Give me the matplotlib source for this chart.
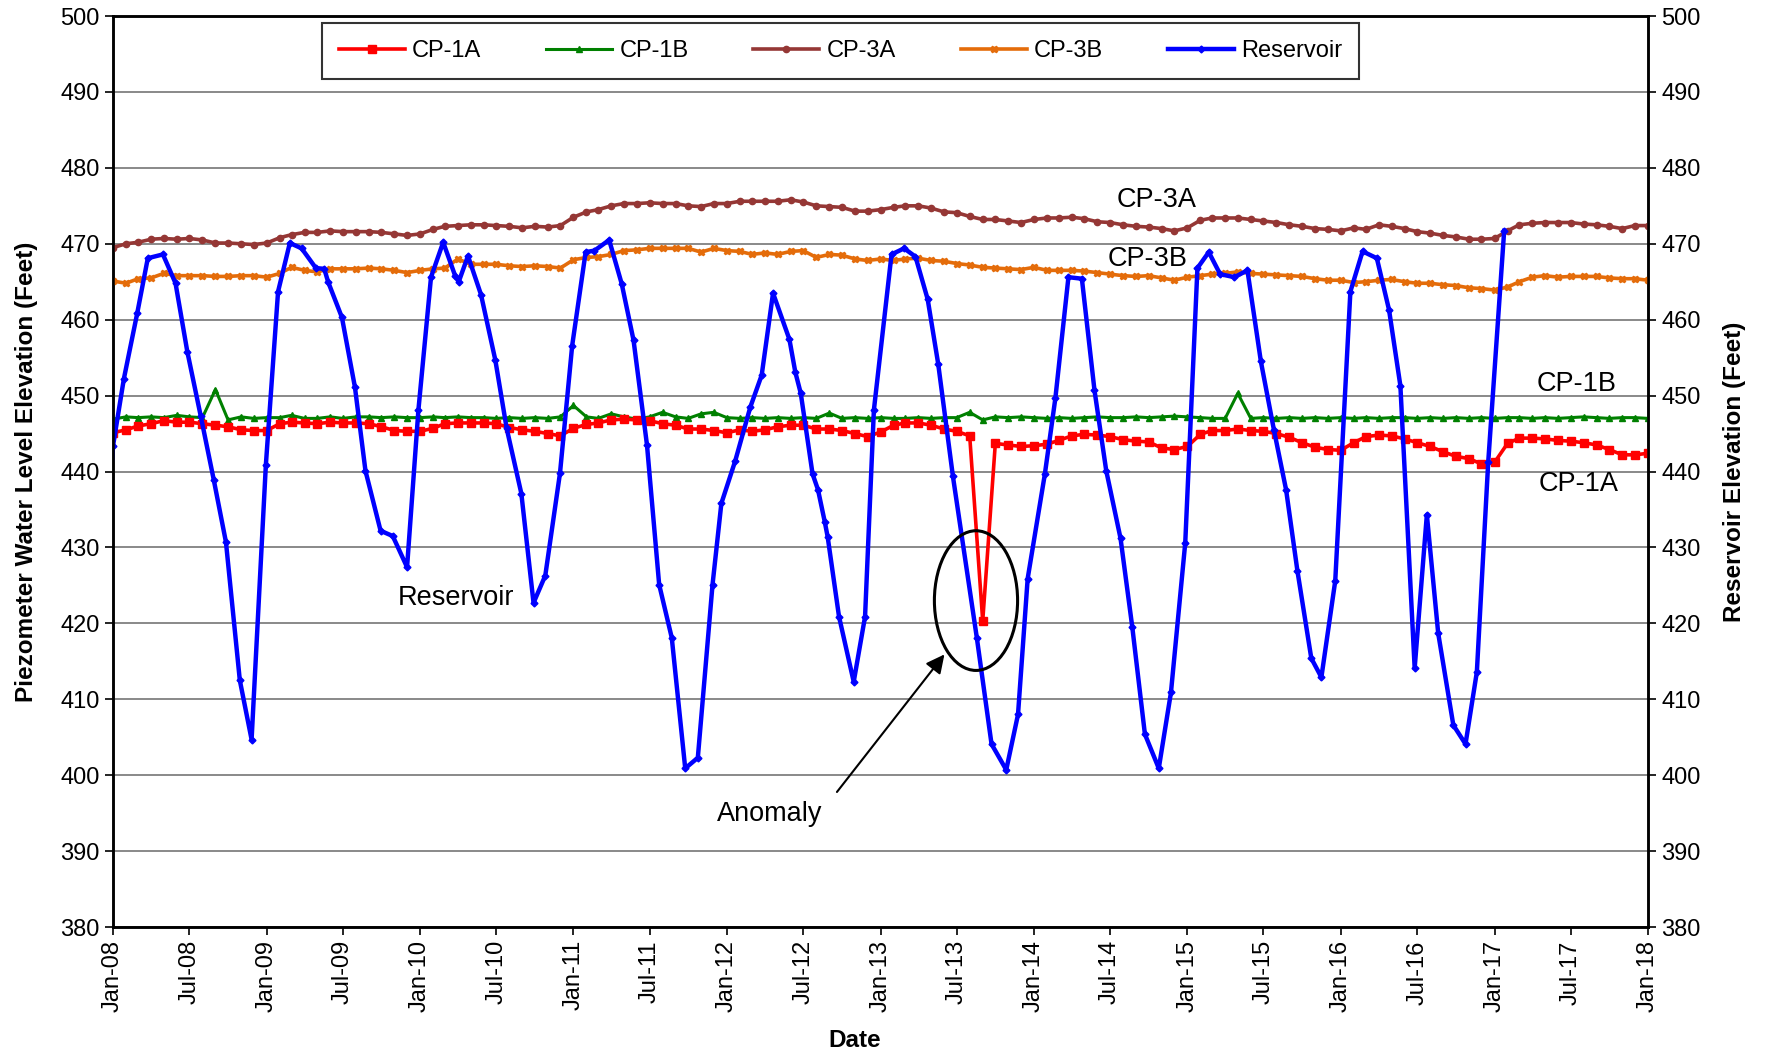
import pandas as pd
import matplotlib.pyplot as plt
import matplotlib.dates as mdates
from matplotlib.patches import Ellipse

plt.rcParams["font.family"] = ["Liberation Sans", "DejaVu Sans"]

# monthly piezometer readings, Jan-08 .. Jan-18
piezo_dates = pd.date_range("2008-01-01", "2018-01-01", freq="MS")

cp1a = [
    445.1, 445.5, 446.0, 446.3, 446.7, 446.5, 446.5, 446.3, 446.1, 445.9, 445.5, 445.4,
    445.4, 446.3, 446.5, 446.4, 446.3, 446.5, 446.4, 446.4, 446.3, 445.9, 445.4, 445.3,
    445.3, 445.7, 446.3, 446.4, 446.4, 446.4, 446.3, 445.8, 445.5, 445.3, 445.0, 444.7,
    445.7, 446.2, 446.4, 446.8, 446.9, 446.8, 446.7, 446.3, 446.1, 445.6, 445.6, 445.4,
    445.1, 445.5, 445.3, 445.5, 445.9, 446.1, 446.1, 445.6, 445.6, 445.4, 445.0, 444.6,
    445.2, 446.1, 446.4, 446.4, 446.1, 445.6, 445.3, 444.7, 420.3, 443.7, 443.5, 443.3,
    443.4, 443.6, 444.1, 444.7, 444.9, 444.8, 444.6, 444.2, 444.0, 443.9, 443.1, 442.9,
    443.3, 444.9, 445.4, 445.4, 445.6, 445.4, 445.3, 445.0, 444.5, 443.8, 443.2, 442.9,
    442.8, 443.8, 444.6, 444.8, 444.7, 444.3, 443.8, 443.3, 442.6, 442.0, 441.7, 441.0,
    441.2, 443.7, 444.4, 444.4, 444.3, 444.1, 444.0, 443.8, 443.5, 442.9, 442.2, 442.2,
    442.4,
]

cp1b = [
    446.9, 447.2, 447.1, 447.2, 447.1, 447.4, 447.2, 447.1, 450.8, 446.8, 447.2, 447.0,
    447.1, 447.1, 447.4, 447.0, 447.0, 447.2, 447.0, 447.2, 447.2, 447.1, 447.2, 447.1,
    447.1, 447.2, 447.1, 447.2, 447.1, 447.1, 447.0, 447.1, 447.0, 447.1, 447.0, 447.2,
    448.7, 447.2, 447.0, 447.6, 447.2, 446.9, 447.2, 447.8, 447.2, 447.0, 447.6, 447.8,
    447.1, 447.0, 447.1, 447.0, 447.1, 447.0, 447.1, 447.0, 447.7, 447.0, 447.1, 447.0,
    447.1, 447.0, 447.0, 447.1, 447.0, 447.1, 447.1, 447.8, 446.8, 447.2, 447.1, 447.2,
    447.1, 447.0, 447.1, 447.0, 447.1, 447.2, 447.1, 447.1, 447.2, 447.1, 447.2, 447.3,
    447.2, 447.1, 447.0, 447.0, 450.3, 447.0, 447.1, 447.0, 447.1, 447.0, 447.1, 447.0,
    447.1, 447.0, 447.1, 447.0, 447.1, 447.1, 447.0, 447.1, 447.0, 447.1, 447.0, 447.1,
    447.0, 447.1, 447.1, 447.0, 447.1, 447.0, 447.1, 447.2, 447.1, 447.0, 447.1, 447.1,
    447.0,
]

cp3a = [
    469.5, 470.0, 470.2, 470.6, 470.7, 470.6, 470.7, 470.5, 470.1, 470.1, 470.0, 469.9,
    470.1, 470.8, 471.2, 471.5, 471.5, 471.7, 471.6, 471.6, 471.6, 471.5, 471.3, 471.1,
    471.3, 471.9, 472.3, 472.4, 472.5, 472.5, 472.4, 472.3, 472.1, 472.3, 472.2, 472.4,
    473.5, 474.2, 474.5, 475.0, 475.3, 475.3, 475.4, 475.3, 475.3, 475.0, 474.9, 475.3,
    475.3, 475.6, 475.6, 475.6, 475.6, 475.8, 475.5, 475.0, 474.9, 474.8, 474.3, 474.3,
    474.5, 474.8, 475.0, 475.0, 474.7, 474.2, 474.1, 473.6, 473.2, 473.2, 473.0, 472.8,
    473.2, 473.4, 473.4, 473.5, 473.3, 472.9, 472.8, 472.5, 472.3, 472.2, 472.0, 471.7,
    472.1, 473.1, 473.4, 473.4, 473.4, 473.2, 473.0, 472.8, 472.5, 472.3, 472.0, 471.9,
    471.7, 472.1, 471.9, 472.5, 472.3, 472.0, 471.6, 471.4, 471.1, 470.9, 470.6, 470.6,
    470.7, 471.7, 472.5, 472.7, 472.8, 472.8, 472.8, 472.6, 472.5, 472.3, 472.0, 472.4,
    472.4,
]

cp3b = [
    465.1, 464.8, 465.4, 465.5, 466.1, 465.8, 465.8, 465.8, 465.7, 465.7, 465.8, 465.8,
    465.6, 466.1, 466.9, 466.5, 466.3, 466.7, 466.7, 466.7, 466.8, 466.7, 466.5, 466.2,
    466.5, 466.7, 466.8, 468.0, 467.3, 467.3, 467.3, 467.1, 467.0, 467.1, 467.0, 466.8,
    467.9, 468.2, 468.3, 468.6, 469.1, 469.2, 469.4, 469.4, 469.4, 469.4, 468.9, 469.4,
    469.1, 469.0, 468.6, 468.8, 468.6, 469.0, 469.1, 468.2, 468.6, 468.5, 468.0, 467.8,
    468.0, 467.8, 468.0, 468.1, 467.8, 467.7, 467.4, 467.2, 466.9, 466.8, 466.7, 466.6,
    466.9, 466.5, 466.5, 466.5, 466.4, 466.2, 466.0, 465.8, 465.7, 465.8, 465.5, 465.2,
    465.6, 465.8, 466.0, 466.1, 466.3, 466.1, 466.0, 465.9, 465.8, 465.7, 465.4, 465.2,
    465.2, 464.9, 465.0, 465.2, 465.3, 465.0, 464.8, 464.8, 464.6, 464.5, 464.2, 464.1,
    463.9, 464.3, 465.0, 465.6, 465.8, 465.6, 465.7, 465.7, 465.7, 465.5, 465.4, 465.4,
    465.2,
]

# reservoir readings (irregular dates)
res_dates = [
    "2007-12-10", "2008-01-01", "2008-01-27", "2008-02-28", "2008-03-24", "2008-04-29",
    "2008-05-29", "2008-06-26", "2008-07-28", "2008-08-28", "2008-09-26", "2008-10-29",
    "2008-11-26", "2008-12-30", "2009-01-28", "2009-02-25", "2009-03-25", "2009-04-28",
    "2009-05-18", "2009-05-27", "2009-06-29", "2009-07-30", "2009-08-24", "2009-09-29",
    "2009-10-28", "2009-12-01", "2009-12-28", "2010-01-27", "2010-02-25", "2010-03-26",
    "2010-04-03", "2010-04-25", "2010-05-26", "2010-06-29", "2010-07-26", "2010-08-30",
    "2010-09-28", "2010-10-26", "2010-11-30", "2010-12-29", "2011-01-30", "2011-02-20",
    "2011-03-27", "2011-04-26", "2011-05-24", "2011-06-25", "2011-07-24", "2011-08-23",
    "2011-09-24", "2011-10-24", "2011-11-28", "2011-12-19", "2012-01-21", "2012-02-26",
    "2012-03-24", "2012-04-20", "2012-05-29", "2012-06-12", "2012-06-25", "2012-07-23",
    "2012-08-05", "2012-08-21", "2012-08-28", "2012-09-24", "2012-10-29", "2012-11-25",
    "2012-12-16", "2013-01-27", "2013-02-26", "2013-03-25", "2013-04-23", "2013-05-18",
    "2013-06-22", "2013-08-18", "2013-09-22", "2013-10-27", "2013-11-24", "2013-12-17",
    "2014-01-27", "2014-02-21", "2014-03-24", "2014-04-25", "2014-05-25", "2014-06-22",
    "2014-07-26", "2014-08-23", "2014-09-22", "2014-10-25", "2014-11-23", "2014-12-27",
    "2015-01-25", "2015-02-21", "2015-03-20", "2015-04-23", "2015-05-24", "2015-06-25",
    "2015-07-26", "2015-08-24", "2015-09-20", "2015-10-23", "2015-11-16", "2015-12-19",
    "2016-01-24", "2016-02-22", "2016-03-27", "2016-04-25", "2016-05-22", "2016-06-25",
    "2016-07-24", "2016-08-20", "2016-09-25", "2016-10-24", "2016-11-20", "2016-12-17",
    "2017-01-24",
]
reservoir = [
    425.0, 443.3, 452.2, 460.9, 468.1, 468.6,
    464.8, 455.8, 447.3, 438.9, 430.7, 412.5,
    404.7, 440.9, 463.7, 470.1, 469.4, 466.8,
    466.7, 465.0, 460.3, 451.1, 440.1, 432.2,
    431.5, 427.4, 448.1, 465.6, 470.2, 465.7,
    465.0, 468.4, 463.3, 454.7, 445.7, 437.1,
    422.7, 426.3, 439.8, 456.6, 468.9, 469.1,
    470.5, 464.7, 457.3, 443.5, 425.1, 418.1,
    400.9, 402.3, 425.1, 435.8, 441.4, 448.5,
    452.7, 463.5, 457.4, 453.1, 450.3, 439.7,
    437.6, 433.4, 431.4, 420.9, 412.3, 420.9,
    448.1, 468.6, 469.4, 468.3, 462.7, 454.2,
    439.4, 418.1, 404.1, 400.7, 408.0, 425.9,
    439.7, 449.7, 465.6, 465.4, 450.7, 440.1,
    431.2, 419.5, 405.4, 400.9, 410.9, 430.6,
    466.8, 468.9, 466.0, 465.6, 466.5, 454.5,
    445.5, 437.6, 426.9, 415.4, 412.9, 425.6,
    463.7, 469.0, 468.1, 461.3, 451.3, 414.1,
    434.3, 418.7, 406.6, 404.1, 413.6, 441.2,
    471.7,
]
res_dates = pd.to_datetime(res_dates)

fig = plt.figure(figsize=(17.7, 10.55), dpi=100)
ax = fig.add_axes([0.0638, 0.1213, 0.8672, 0.8635])

ax.plot(piezo_dates, cp1a, color="#ff0000", lw=2.6, marker="s", ms=5.5, label="CP-1A", zorder=4)
ax.plot(piezo_dates, cp1b, color="#008000", lw=2.2, marker="^", ms=5, label="CP-1B", zorder=3)
ax.plot(piezo_dates, cp3a, color="#953735", lw=2.6, marker="o", ms=4.5, label="CP-3A", zorder=3)
ax.plot(piezo_dates, cp3b, color="#e46c0a", lw=2.6, marker="X", ms=5, label="CP-3B", zorder=3)
ax.plot(res_dates, reservoir, color="#0000ff", lw=3.2, marker="D", ms=3.5, label="Reservoir", zorder=5)

ax.set_xlim(pd.Timestamp("2008-01-01"), pd.Timestamp("2018-01-01"))
ax.set_ylim(380, 500)
ax.set_yticks(range(380, 501, 10))
ax.yaxis.grid(True, color="#808080", lw=1.3)
ax.set_axisbelow(True)

ax.xaxis.set_major_locator(mdates.MonthLocator(bymonth=[1, 7]))
ax.xaxis.set_major_formatter(mdates.DateFormatter("%b-%y"))
plt.setp(ax.get_xticklabels(), rotation=90)
ax.tick_params(axis="both", labelsize=17, length=6, width=1.2, direction="out")

for s in ax.spines.values():
    s.set_linewidth(1.8)

ax.set_xlabel("Date", fontsize=17.5, fontweight="bold")
ax.xaxis.set_label_coords(0.483, -0.112)
ax.set_ylabel("Piezometer Water Level Elevation (Feet)", fontsize=17.5,
              fontweight="bold", labelpad=16)

ax2 = ax.twinx()
ax2.set_ylim(380, 500)
ax2.set_yticks(range(380, 501, 10))
ax2.tick_params(axis="y", labelsize=17, length=6, width=1.2, direction="out")
ax2.set_ylabel("Reservoir Elevation (Feet)", fontsize=17.5, fontweight="bold", labelpad=16)
for s in ax2.spines.values():
    s.set_linewidth(1.8)

leg = ax.legend(loc="upper center", bbox_to_anchor=(0.474, 0.9926), ncol=5,
                fontsize=17, frameon=True, fancybox=False, edgecolor="black",
                handlelength=2.8, columnspacing=2.75, borderpad=0.72, handletextpad=0.3,
                borderaxespad=0)
leg.get_frame().set_linewidth(1.5)

# series labels
txt = dict(fontsize=19.5, ha="center", va="center")
ax.text(pd.Timestamp("2014-10-20"), 475.8, "CP-3A", **txt)
ax.text(pd.Timestamp("2014-09-28"), 468.0, "CP-3B", **txt)
ax.text(pd.Timestamp("2017-07-15"), 451.5, "CP-1B", **txt)
ax.text(pd.Timestamp("2017-07-20"), 438.4, "CP-1A", **txt)
ax.text(pd.Timestamp("2010-03-28"), 423.4, "Reservoir", **txt)
ax.text(pd.Timestamp("2012-04-12"), 394.9, "Anomaly", **txt)

# anomaly marker
ell_c = mdates.date2num(pd.Timestamp("2013-08-16"))
ax.add_patch(Ellipse((ell_c, 423.0), width=198, height=18.4, fill=False,
                     edgecolor="black", lw=2.2, zorder=6))
ax.annotate("", xy=(pd.Timestamp("2013-06-06"), 416.2),
            xytext=(pd.Timestamp("2012-09-15"), 397.5),
            arrowprops=dict(arrowstyle="-|>", color="black", lw=1.5,
                            mutation_scale=28), zorder=6)

fig.savefig("out.png", dpi=100)
